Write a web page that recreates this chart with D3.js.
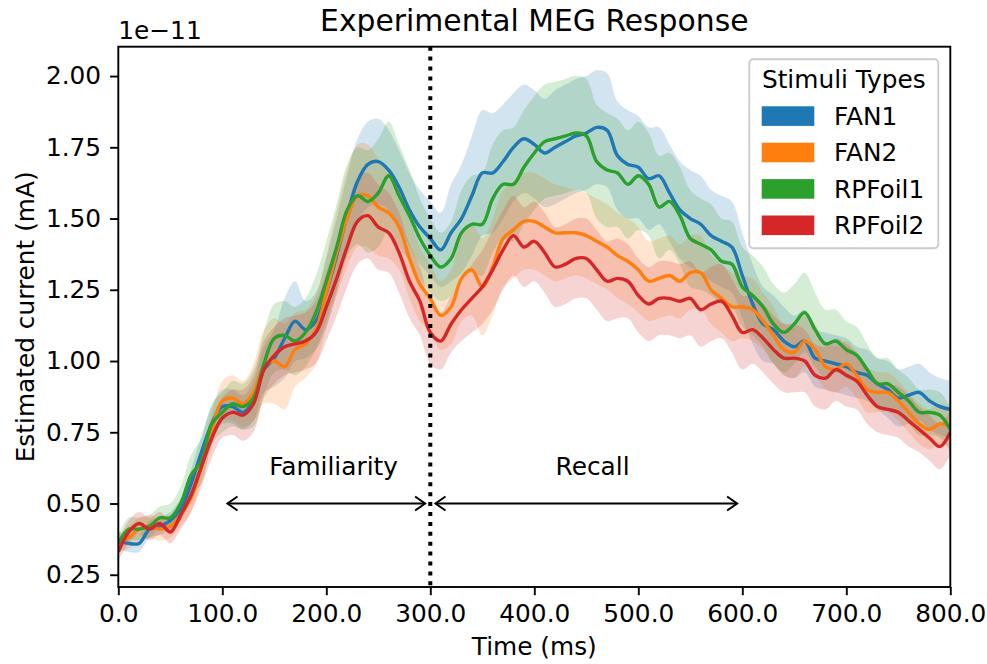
<!DOCTYPE html>
<html>
<head>
<meta charset="utf-8">
<script src="https://cdn.jsdelivr.net/npm/d3@7"></script>
<style>
  body { margin: 0; background: #fff; }
  svg { font-family: 'DejaVu Sans', sans-serif; }
</style>
</head>
<body>
<svg id="chart" width="987" height="664"></svg>
<script>
// time grid (ms), sampled every 10 ms
const times = d3.range(0, 801, 10);

const seriesNames = ['FAN1', 'FAN2', 'RPFoil1', 'RPFoil2'];

// mean response, units of 1e-11
const fan1 = [0.37,0.36,0.36,0.41,0.42,0.44,0.48,0.57,0.68,0.78,
  0.84,0.84,0.82,0.86,0.97,1.01,1.08,1.14,1.11,1.14,
  1.24,1.37,1.51,1.63,1.69,1.70,1.67,1.61,1.53,1.47,
  1.43,1.39,1.45,1.50,1.58,1.66,1.66,1.70,1.75,1.78,
  1.76,1.73,1.75,1.77,1.79,1.80,1.82,1.81,1.72,1.69,
  1.68,1.64,1.65,1.59,1.53,1.50,1.48,1.44,1.42,1.40,
  1.30,1.20,1.13,1.11,1.07,1.05,1.07,1.01,1.00,0.99,
  0.98,0.96,0.95,0.92,0.90,0.87,0.88,0.89,0.86,0.84,0.83];
const fan2 = [0.36,0.38,0.41,0.42,0.41,0.42,0.46,0.52,0.63,0.76,
  0.86,0.87,0.85,0.89,0.98,1.00,0.98,1.04,1.06,1.11,
  1.24,1.38,1.50,1.58,1.58,1.54,1.52,1.47,1.36,1.27,
  1.22,1.16,1.19,1.29,1.32,1.26,1.33,1.43,1.46,1.49,
  1.49,1.47,1.45,1.45,1.45,1.44,1.42,1.40,1.37,1.35,
  1.32,1.28,1.29,1.30,1.28,1.31,1.31,1.25,1.22,1.19,
  1.19,1.18,1.14,1.09,1.04,1.03,1.07,1.04,0.98,0.97,
  0.99,0.95,0.90,0.89,0.89,0.86,0.82,0.78,0.76,0.78,0.77];
const rpfoil1 = [0.36,0.41,0.41,0.42,0.45,0.45,0.50,0.60,0.65,0.78,
  0.82,0.85,0.84,0.87,0.99,1.08,1.09,1.07,1.10,1.17,
  1.28,1.40,1.53,1.58,1.56,1.59,1.65,1.58,1.51,1.43,
  1.37,1.33,1.36,1.45,1.48,1.48,1.57,1.62,1.62,1.68,
  1.73,1.77,1.78,1.79,1.80,1.79,1.70,1.67,1.66,1.62,
  1.65,1.62,1.54,1.56,1.51,1.43,1.41,1.39,1.35,1.34,
  1.26,1.23,1.19,1.13,1.10,1.13,1.17,1.11,1.06,1.07,
  1.04,1.02,0.97,0.92,0.92,0.89,0.86,0.82,0.82,0.81,0.76];
const rpfoil2 = [0.33,0.40,0.43,0.41,0.43,0.40,0.46,0.53,0.63,0.73,
  0.80,0.82,0.81,0.85,0.97,1.02,1.05,1.06,1.07,1.10,
  1.19,1.29,1.40,1.49,1.51,1.47,1.45,1.38,1.28,1.21,
  1.10,1.07,1.13,1.18,1.22,1.26,1.32,1.39,1.44,1.40,
  1.42,1.38,1.33,1.34,1.36,1.36,1.32,1.28,1.29,1.28,
  1.23,1.20,1.22,1.22,1.21,1.22,1.18,1.20,1.21,1.16,
  1.10,1.11,1.08,1.04,1.01,1.01,1.00,0.95,0.94,0.97,
  0.95,0.93,0.88,0.84,0.83,0.82,0.79,0.76,0.73,0.70,0.75];

// half-width of the shaded band
const fan1Err = [0.03,0.03,0.03,0.03,0.03,0.03,0.04,0.05,0.06,0.06,
  0.06,0.06,0.06,0.07,0.08,0.10,0.14,0.14,0.10,0.10,
  0.12,0.13,0.14,0.15,0.15,0.15,0.14,0.13,0.13,0.13,
  0.13,0.13,0.17,0.19,0.21,0.22,0.21,0.20,0.19,0.19,
  0.19,0.19,0.20,0.20,0.20,0.20,0.20,0.20,0.19,0.19,
  0.18,0.18,0.17,0.17,0.17,0.17,0.17,0.16,0.16,0.16,
  0.15,0.14,0.13,0.12,0.12,0.11,0.11,0.10,0.10,0.10,
  0.10,0.09,0.09,0.09,0.10,0.10,0.10,0.10,0.10,0.10,0.10];
const fan2Err = [0.03,0.04,0.04,0.04,0.04,0.04,0.04,0.05,0.05,0.06,
  0.07,0.08,0.08,0.10,0.13,0.15,0.15,0.13,0.12,0.12,
  0.13,0.15,0.17,0.18,0.18,0.17,0.16,0.15,0.14,0.13,
  0.12,0.12,0.13,0.15,0.16,0.17,0.17,0.17,0.17,0.17,
  0.17,0.17,0.17,0.16,0.15,0.15,0.15,0.15,0.15,0.15,
  0.15,0.14,0.14,0.14,0.13,0.13,0.13,0.12,0.12,0.12,
  0.11,0.11,0.10,0.10,0.09,0.09,0.09,0.09,0.08,0.08,
  0.08,0.08,0.08,0.07,0.07,0.07,0.07,0.07,0.07,0.07,0.07];
const rpfoil1Err = [0.03,0.04,0.04,0.04,0.04,0.05,0.06,0.07,0.08,0.07,
  0.07,0.08,0.08,0.10,0.11,0.12,0.12,0.12,0.12,0.13,
  0.14,0.15,0.16,0.17,0.18,0.19,0.19,0.18,0.16,0.14,
  0.13,0.12,0.13,0.15,0.17,0.18,0.19,0.19,0.20,0.20,
  0.20,0.20,0.20,0.20,0.20,0.20,0.20,0.20,0.19,0.19,
  0.19,0.18,0.18,0.17,0.17,0.17,0.16,0.16,0.15,0.15,
  0.14,0.14,0.14,0.14,0.14,0.14,0.14,0.13,0.12,0.11,
  0.10,0.10,0.09,0.09,0.09,0.08,0.08,0.08,0.08,0.08,0.08];
const rpfoil2Err = [0.03,0.04,0.04,0.04,0.04,0.04,0.05,0.06,0.07,0.07,
  0.07,0.08,0.09,0.10,0.10,0.10,0.10,0.10,0.10,0.11,
  0.12,0.13,0.14,0.15,0.15,0.15,0.14,0.14,0.13,0.12,
  0.11,0.10,0.10,0.11,0.12,0.13,0.14,0.14,0.14,0.14,
  0.14,0.14,0.14,0.14,0.14,0.14,0.14,0.14,0.14,0.13,
  0.13,0.13,0.13,0.13,0.13,0.13,0.13,0.13,0.13,0.13,
  0.13,0.12,0.12,0.12,0.12,0.12,0.11,0.11,0.11,0.11,
  0.11,0.10,0.10,0.09,0.09,0.09,0.09,0.08,0.08,0.08,0.08];

const xTicks = [0, 100, 200, 300, 400, 500, 600, 700, 800];
const yTicks = [0.25, 0.50, 0.75, 1.00, 1.25, 1.50, 1.75, 2.00];

const colors = ['#1f77b4', '#ff7f0e', '#2ca02c', '#d62728'];
const means = [fan1, fan2, rpfoil1, rpfoil2];
const errs = [fan1Err, fan2Err, rpfoil1Err, rpfoil2Err];

const svg = d3.select('#chart');
const box = { left: 118.3, right: 950.3, top: 46.7, bottom: 587 };
const fs = 24.8;

const x = d3.scaleLinear().domain([0, 800]).range([box.left, box.right]);
const y = d3.scaleLinear().domain([0.207, 2.103]).range([box.bottom, box.top]);

svg.append('defs').append('clipPath').attr('id', 'plot-clip')
  .append('rect').attr('x', box.left).attr('y', box.top)
  .attr('width', box.right - box.left).attr('height', box.bottom - box.top);

const plot = svg.append('g').attr('clip-path', 'url(#plot-clip)');

const series = seriesNames.map((name, i) => ({
  name,
  color: colors[i],
  pts: times.map((t, j) => ({ t, v: means[i][j], e: errs[i][j] }))
}));

const curve = d3.curveCatmullRom.alpha(0.5);
const area = d3.area()
  .x(d => x(d.t))
  .y0(d => y(d.v - d.e))
  .y1(d => y(d.v + d.e))
  .curve(curve);
const line = d3.line()
  .x(d => x(d.t))
  .y(d => y(d.v))
  .curve(curve);

plot.selectAll('path.band')
  .data(series)
  .enter()
  .append('path')
  .attr('class', 'band')
  .attr('d', d => area(d.pts))
  .attr('fill', d => d.color)
  .attr('fill-opacity', 0.2);

plot.selectAll('path.mean')
  .data(series)
  .enter()
  .append('path')
  .attr('class', 'mean')
  .attr('d', d => line(d.pts))
  .attr('fill', 'none')
  .attr('stroke', d => d.color)
  .attr('stroke-width', 3.4)
  .attr('stroke-linejoin', 'round');

// stimulus onset split
svg.append('line')
  .attr('x1', x(300)).attr('x2', x(300))
  .attr('y1', box.top).attr('y2', box.bottom)
  .attr('stroke', '#000')
  .attr('stroke-width', 4)
  .attr('stroke-dasharray', '4 5.9');

// phase arrows
const arrowHead = (px, py, dir) => {
  const h = 10, w = 7;
  return `M${px - dir * h},${py - w}L${px},${py}L${px - dir * h},${py + w}`;
};
const phases = [
  { label: 'Familiarity', from: 105, to: 295, lx: 207 },
  { label: 'Recall', from: 305, to: 595, lx: 456 }
];
phases.forEach(p => {
  const yy = y(0.5);
  const g = svg.append('g').attr('stroke', '#000').attr('stroke-width', 2).attr('fill', 'none');
  g.append('line').attr('x1', x(p.from)).attr('x2', x(p.to)).attr('y1', yy).attr('y2', yy);
  g.append('path').attr('d', arrowHead(x(p.from), yy, -1));
  g.append('path').attr('d', arrowHead(x(p.to), yy, 1));
  svg.append('text')
    .attr('x', x(p.lx)).attr('y', y(0.6))
    .attr('text-anchor', 'middle')
    .attr('font-size', fs)
    .text(p.label);
});

// axes
const gx = svg.append('g').attr('transform', `translate(0,${box.bottom})`)
  .call(d3.axisBottom(x).tickValues(xTicks).tickFormat(d3.format('.1f')).tickSize(8.2).tickPadding(7.5));
const gy = svg.append('g').attr('transform', `translate(${box.left},0)`)
  .call(d3.axisLeft(y).tickValues(yTicks).tickFormat(d3.format('.2f')).tickSize(8.2).tickPadding(9));
[gx, gy].forEach(g => {
  g.select('.domain').remove();
  g.selectAll('line').attr('stroke', '#000').attr('stroke-width', 1.9);
  g.selectAll('text').attr('font-size', fs).attr('fill', '#000')
    .attr('font-family', "'DejaVu Sans', sans-serif");
});
gx.selectAll('text').attr('dy', '0.76em');

svg.append('rect')
  .attr('x', box.left).attr('y', box.top)
  .attr('width', box.right - box.left).attr('height', box.bottom - box.top)
  .attr('fill', 'none').attr('stroke', '#000').attr('stroke-width', 1.9);

svg.append('text').attr('x', box.left).attr('y', 39).attr('font-size', fs).text('1e\u221211');

svg.append('text')
  .attr('x', (box.left + box.right) / 2).attr('y', 31)
  .attr('text-anchor', 'middle').attr('font-size', 29.8)
  .text('Experimental MEG Response');

svg.append('text')
  .attr('x', (box.left + box.right) / 2).attr('y', 655)
  .attr('text-anchor', 'middle').attr('font-size', fs)
  .text('Time (ms)');

svg.append('text')
  .attr('transform', `translate(34,${(box.top + box.bottom) / 2}) rotate(-90)`)
  .attr('text-anchor', 'middle').attr('font-size', fs)
  .text('Estimated current (mA)');

// legend
const lg = svg.append('g').attr('transform', 'translate(749.3,59.3)');
lg.append('rect')
  .attr('width', 189).attr('height', 189).attr('rx', 4)
  .attr('fill', '#fff').attr('fill-opacity', 0.8)
  .attr('stroke', '#cccccc').attr('stroke-width', 1.9);
lg.append('text').attr('x', 94.5).attr('y', 29).attr('text-anchor', 'middle')
  .attr('font-size', fs).text('Stimuli Types');
const items = lg.selectAll('g.item')
  .data(series)
  .enter()
  .append('g')
  .attr('class', 'item')
  .attr('transform', (d, i) => `translate(0,${47 + i * 36.4})`);
items.append('rect')
  .attr('x', 12.4).attr('width', 52.6).attr('height', 19.6)
  .attr('fill', d => d.color);
items.append('text')
  .attr('x', 84.7).attr('y', 18.5)
  .attr('font-size', fs)
  .text(d => d.name);
</script>
</body>
</html>
